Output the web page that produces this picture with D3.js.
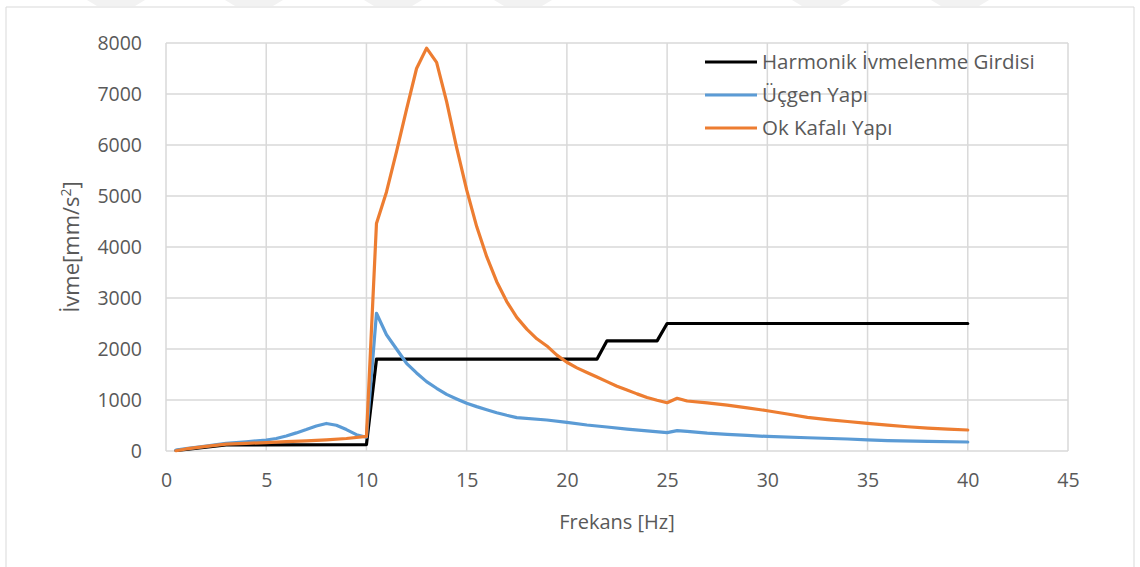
<!DOCTYPE html>
<html>
<head>
<meta charset="utf-8">
<script src="https://cdn.jsdelivr.net/npm/d3@7/dist/d3.min.js"></script>
<style>
  html, body { margin: 0; padding: 0; background: #fff; }
  svg { display: block; }
</style>
</head>
<body>
<div id="chart"></div>
<script>
// İvme – frekans grafiği: harmonik girdi + iki yapının tepkisi
const xTicks = [0, 5, 10, 15, 20, 25, 30, 35, 40, 45];
const yTicks = [0, 1000, 2000, 3000, 4000, 5000, 6000, 7000, 8000];

// [frekans Hz, ivme mm/s²]
const harmonik = [
  [0.5, 10], [1, 30], [2, 75], [3, 120], [10, 125],
  [10.5, 1800], [21.5, 1800], [22, 2160], [24.5, 2160], [25, 2500], [40, 2500]
];
const ucgen = [
  [0.5, 20], [1, 45], [2, 95], [3, 150], [4, 180], [5, 215], [5.5, 245], [6, 295],
  [6.5, 355], [7, 420], [7.5, 490], [8, 540], [8.5, 505], [9, 420], [9.5, 320], [10, 270],
  [10.5, 2700], [11, 2280], [11.5, 2000], [12, 1720], [12.5, 1530], [13, 1360],
  [13.5, 1230], [14, 1110], [14.5, 1020], [15, 935], [15.5, 870], [16, 810],
  [16.5, 750], [17, 700], [17.5, 655], [19, 608], [20, 560], [21, 510], [22, 470],
  [23, 430], [24, 395], [25, 360], [25.5, 400], [26, 385], [27, 350], [28, 325],
  [29, 305], [30, 285], [32, 260], [34, 235], [35, 220], [36, 205], [38, 190], [40, 176]
];
const okKafali = [
  [0.5, 5], [1, 40], [2, 90], [3, 135], [4, 150], [5, 165], [6, 185], [7, 200],
  [8, 220], [9, 245], [10, 285],
  [10.5, 4460], [11, 5080], [11.5, 5870], [12, 6700], [12.5, 7500], [13, 7900],
  [13.5, 7620], [14, 6850], [14.5, 5950], [15, 5120], [15.5, 4400], [16, 3810],
  [16.5, 3320], [17, 2930], [17.5, 2620], [18, 2390], [18.5, 2200], [19, 2060],
  [19.5, 1880], [20, 1740], [20.5, 1630], [21, 1540], [21.5, 1450], [22, 1360],
  [22.5, 1270], [23, 1195], [23.5, 1120], [24, 1050], [24.5, 995], [25, 947],
  [25.5, 1033], [26, 980], [27, 945], [28, 900], [29, 845], [30, 790], [31, 725],
  [32, 660], [33, 615], [34, 578], [35, 541], [36, 508], [37, 476], [38, 450],
  [39, 428], [40, 412]
];

const series = [
  { name: "Harmonik İvmelenme Girdisi", color: "#000000", data: harmonik },
  { name: "Üçgen Yapı", color: "#5B9BD5", data: ucgen },
  { name: "Ok Kafalı Yapı", color: "#ED7D31", data: okKafali }
];

const W = 1140, H = 567;
const ML = 166, MR = 1068, MT = 43, MB = 451;
const FONT = "'Open Sans', sans-serif";
const INK = "#595959";

const svg = d3.select("#chart").append("svg")
  .attr("width", W).attr("height", H);

// çerçeve ve üstteki soluk filigran
svg.append("path")
  .attr("d", `M6 ${H} L6 7 L1134 7 L1134 ${H}`)
  .attr("fill", "none").attr("stroke", "#d9d9d9").attr("stroke-width", 1);
[87, 225, 364, 494, 792, 931].forEach(wx => {
  svg.append("path")
    .attr("d", `M${wx} 0 L${wx + 58} 0 L${wx + 48} 6 L${wx + 10} 6 Z`)
    .attr("fill", "#f2f2f2");
});

const x = d3.scaleLinear().domain([0, 45]).range([ML, MR]);
const y = d3.scaleLinear().domain([0, 8000]).range([MB, MT]);

// ── ızgara ──
const grid = svg.append("g");
yTicks.forEach(v => {
  grid.append("line")
    .attr("x1", ML).attr("x2", MR).attr("y1", y(v)).attr("y2", y(v))
    .attr("stroke", "#d9d9d9").attr("stroke-width", 1.5);
});
xTicks.forEach(v => {
  grid.append("line")
    .attr("x1", x(v)).attr("x2", x(v)).attr("y1", MT).attr("y2", MB)
    .attr("stroke", "#d9d9d9").attr("stroke-width", 1.5);
});

// ── eksen etiketleri ──
const yAxis = d3.axisLeft(y).tickValues(yTicks).tickFormat(d3.format("d"))
  .tickSize(0).tickPadding(24);
svg.append("g").attr("transform", `translate(${ML},0)`).call(yAxis)
  .call(g => g.select(".domain").remove())
  .selectAll("text")
  .attr("style", `font:19.5px ${FONT};fill:${INK}`);

const xAxis = d3.axisBottom(x).tickValues(xTicks).tickSize(0).tickPadding(22);
svg.append("g").attr("transform", `translate(0,${MB})`).call(xAxis)
  .call(g => g.select(".domain").remove())
  .selectAll("text")
  .attr("style", `font:19.5px ${FONT};fill:${INK}`);

svg.append("text")
  .attr("x", (ML + MR) / 2).attr("y", 529).attr("text-anchor", "middle")
  .attr("style", `font:20px ${FONT};fill:${INK}`)
  .text("Frekans [Hz]");

const yl = svg.append("text")
  .attr("transform", "translate(79,247) rotate(-90)")
  .attr("text-anchor", "middle")
  .attr("style", `font:22px ${FONT};fill:${INK}`);
yl.append("tspan").text("İvme[mm/s");
yl.append("tspan").attr("dy", -8).attr("style", "font-size:14px").text("2");
yl.append("tspan").attr("dy", 8).text("]");

// ── seriler ──
const line = d3.line().x(d => x(d[0])).y(d => y(d[1]));
series.forEach(s => {
  svg.append("path")
    .attr("d", line(s.data))
    .attr("fill", "none").attr("stroke", s.color).attr("stroke-width", 3.2)
    .attr("stroke-linejoin", "round").attr("stroke-linecap", "round");
});

// ── lejant ──
series.forEach((s, i) => {
  const ly = 62 + i * 33;
  svg.append("line")
    .attr("x1", 705).attr("x2", 757).attr("y1", ly).attr("y2", ly)
    .attr("stroke", s.color).attr("stroke-width", 3.2);
  svg.append("text")
    .attr("x", 762).attr("y", ly + 7)
    .attr("style", `font:20.5px ${FONT};fill:${INK}`)
    .text(s.name);
});
</script>
</body>
</html>
